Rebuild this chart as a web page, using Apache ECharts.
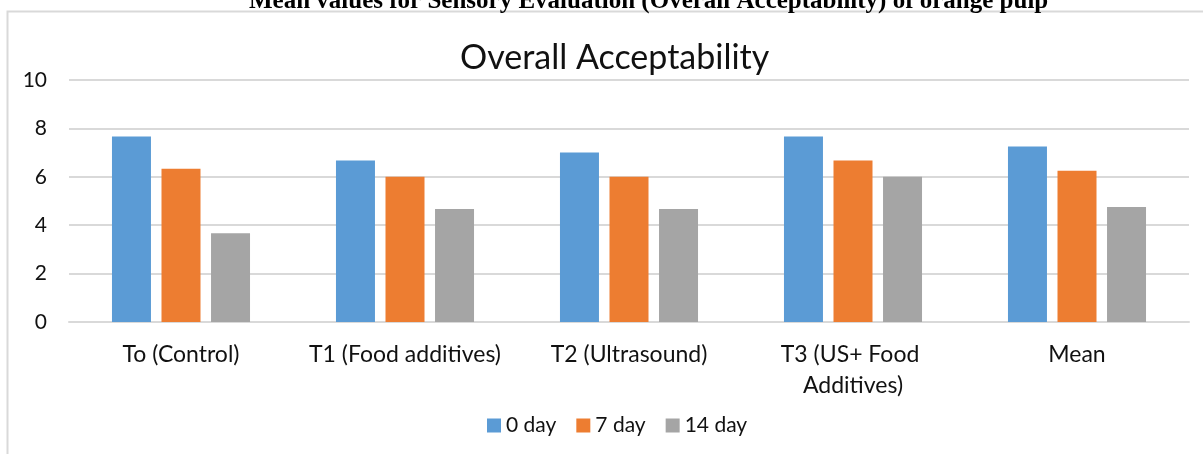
<!DOCTYPE html>
<html>
<head>
<meta charset="utf-8">
<script src="https://cdn.jsdelivr.net/npm/echarts@6/dist/echarts.min.js"></script>
<style>
  html, body { margin: 0; padding: 0; background: #ffffff; }
  #chart { width: 1203px; height: 454px; }
</style>
</head>
<body>
<div id="chart"></div>
<script>
// Treatments along the x axis
const categories = ['To (Control)', 'T1 (Food additives)', 'T2 (Ultrasound)', 'T3 (US+ Food Additives)', 'Mean'];
// Overall acceptability scores by storage day
const day0 = [7.67, 6.67, 7.00, 7.67, 7.25];
const day7 = [6.33, 6.00, 6.00, 6.67, 6.25];
const day14 = [3.67, 4.67, 4.67, 6.00, 4.75];
const seriesNames = ['0 day', '7 day', '14 day'];
const yTicks = { min: 0, max: 10, interval: 2 };

const headerText = 'Mean values for Sensory Evaluation (Overall Acceptability) of orange pulp';
const chartTitle = 'Overall Acceptability';

const colors = ['#5b9bd5', '#ed7d31', '#a5a5a5'];
const font = 'Lato, "Open Sans", sans-serif';

const chart = echarts.init(document.getElementById('chart'), null, { renderer: 'canvas' });

const option = {
  animation: false,
  backgroundColor: '#ffffff',
  color: colors,
  graphic: [{
    type: 'rect',
    shape: { x: 7.5, y: 11.5, width: 1300, height: 600 },
    style: { fill: 'none', stroke: '#d9d9d9', lineWidth: 2 },
    silent: true,
    z: -1
  }],
  title: [
    {
      text: headerText,
      left: 244,
      top: -16,
      textStyle: { fontFamily: '"Liberation Serif", "Times New Roman", serif', fontWeight: 'bold', fontSize: 25, color: '#000' }
    },
    {
      text: chartTitle,
      left: 455,
      top: 36,
      textStyle: { fontFamily: font, fontWeight: 'normal', fontSize: 34, color: '#111' }
    }
  ],
  legend: {
    data: seriesNames,
    bottom: 13,
    left: 482,
    itemWidth: 14,
    itemHeight: 14,
    itemGap: 20,
    icon: 'rect',
    textStyle: { fontFamily: font, fontSize: 21, color: '#111', padding: [0, 0, 0, 0] }
  },
  grid: { left: 69, right: 14, top: 80, bottom: 132, containLabel: false },
  xAxis: {
    type: 'category',
    data: categories,
    axisLine: { show: true, lineStyle: { color: '#d9d9d9', width: 2 } },
    axisTick: { show: false },
    axisLabel: {
      fontFamily: font, fontSize: 23, color: '#111', margin: 17,
      width: 215, overflow: 'break', lineHeight: 31, interval: 0
    }
  },
  yAxis: {
    type: 'value',
    min: yTicks.min, max: yTicks.max, interval: yTicks.interval,
    axisLine: { show: false },
    axisTick: { show: false },
    splitLine: { lineStyle: { color: '#d9d9d9', width: 2 } },
    axisLabel: { fontFamily: font, fontSize: 21, color: '#111', margin: 22 }
  },
  series: [day0, day7, day14].map((vals, i) => ({
    name: seriesNames[i],
    type: 'bar',
    data: vals,
    barWidth: 39,
    barGap: '27%',
    itemStyle: { color: colors[i] }
  }))
};

chart.setOption(option);
</script>
</body>
</html>
